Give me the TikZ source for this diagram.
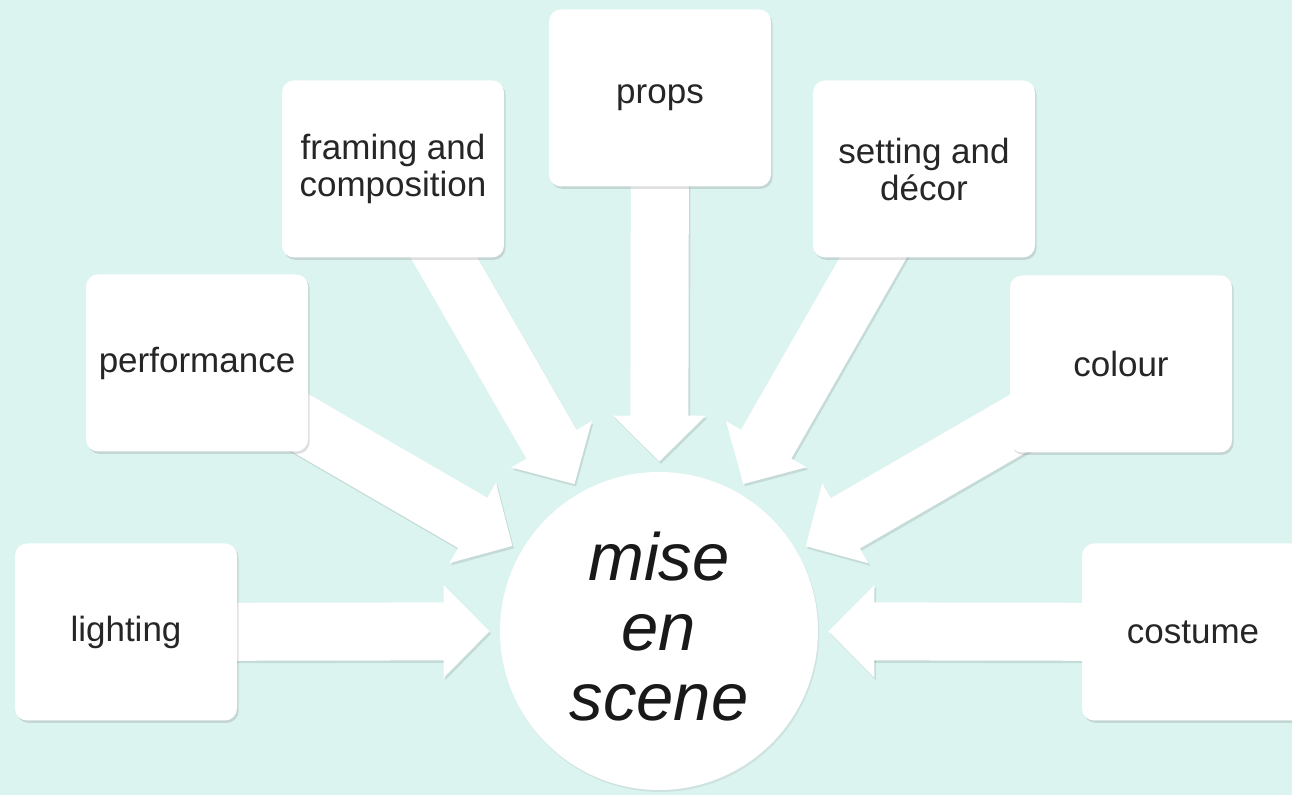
\documentclass[tikz,border=0pt]{standalone}
\usepackage{fontspec}
\setmainfont{Liberation Sans}
\usetikzlibrary{math,arrows.meta,shadows,backgrounds}

\definecolor{fondo}{RGB}{220,244,240}

\begin{document}
\begin{tikzpicture}[x=0.5pt, y=-0.5pt,
    caja/.style = {rectangle, rounded corners=6pt, fill=white, text=black!85,
        minimum width=111pt, minimum height=88.5pt, inner sep=0pt, align=center,
        font=\fontsize{17.5}{18.5}\selectfont,
        drop shadow={opacity=0.25, shadow xshift=0.8pt, shadow yshift=-1.2pt}},
    flecha/.style = {line width=29pt, white, -{Triangle[width=45pt, length=23pt]}, shorten >=5pt},
    sombra/.style = {flecha, black, opacity=0.10, transform canvas={shift={(0.8pt,-1.2pt)}}}]
    \tikzmath{
        \xval = 1292;
        \yval = 795;
        \cx = 659;
        \cy = 631;
    }

% marco
\useasboundingbox (0,0) rectangle (\xval,\yval);

% centro
\node[circle, fill=white, minimum size=159pt, inner sep=0pt, align=center,
        text=black!90, text depth=5pt, font=\fontsize{33.5}{35}\selectfont\itshape,
        drop shadow={opacity=0.15, shadow xshift=0.6pt, shadow yshift=-1pt}]
        (mise) at (\cx,\cy) {mise\\en\\scene};

% cajas
\node[caja] (light) at (126,632) {lighting};
\node[caja] (perf) at (197,363) {performance};
\node[caja] (frame) at (393,169) {framing and\\composition};
\node[caja] (props) at (660,98) {props};
\node[caja] (decor) at (924,169) {setting and\\décor};
\node[caja] (colour) at (1121,364) {colour};
\node[caja] (costume) at (1193,632) {costume};

% fondo y flechas
\begin{scope}[on background layer]
    \fill[fondo] (0,0) rectangle (\xval,\yval);
    \foreach \n in {light, perf, frame, props, decor, colour, costume} {
        \draw[sombra] (\n.center) -- (mise);
        \draw[flecha] (\n.center) -- (mise);
    }
\end{scope}

\end{tikzpicture}
\end{document}
